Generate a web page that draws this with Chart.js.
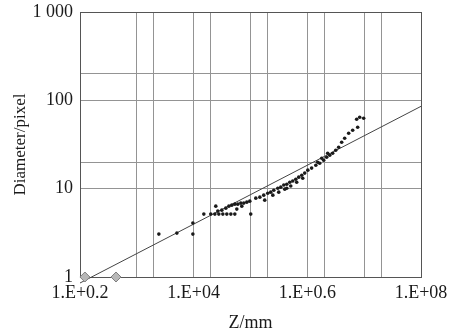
<!DOCTYPE html>
<html>
<head>
<meta charset="utf-8">
<script src="https://cdn.jsdelivr.net/npm/chart.js@4"></script>
<style>
  html, body { margin: 0; padding: 0; background: #fff; }
  #wrap { width: 457px; height: 335px; }
</style>
</head>
<body>
<div id="wrap"><canvas id="myChart" width="457" height="335"></canvas></div>
<script>
// measured points: Z (mm) and diameter (pixel)
let zValues = [2440, 5070, 9680, 9680, 15100, 24500, 20000, 23600, 27700, 32600,
  38300, 45100, 53000, 101000, 26600, 31300, 36800, 41600, 46900, 53000,
  59800, 67500, 76200, 86100, 97200, 70300, 57400, 124000, 146000, 171000,
  201000, 227000, 257000, 302000, 341000, 385000, 435000, 491000, 554000, 626000,
  706000, 798000, 900000, 1020000, 178000, 247000, 314000, 401000, 511000, 650000,
  830000, 435000, 1190000, 1410000, 1650000, 1940000, 2190000, 2480000, 2790000, 3160000,
  3560000, 4020000, 4540000, 5340000, 6280000, 7690000, 7380000, 8340000, 9800000, 1520000,
  2280000, 1790000];
let diameterValues = [3.06, 3.14, 3.06, 4.08, 5.15, 6.34, 5.15, 5.15, 5.15, 5.15,
  5.15, 5.15, 5.15, 5.15, 5.57, 5.71, 6.02, 6.34, 6.51, 6.68,
  6.68, 6.86, 6.86, 7.04, 7.22, 6.34, 5.87, 7.81, 8.02, 8.45,
  8.89, 9.13, 9.61, 10.1, 10.4, 11.0, 11.2, 11.8, 12.2, 12.8,
  13.5, 14.2, 15.0, 16.2, 7.41, 8.45, 9.13, 9.87, 10.7, 11.8,
  13.1, 10.1, 17.1, 18.4, 19.4, 21.0, 22.7, 23.9, 25.2, 27.2,
  29.4, 33.5, 37.2, 42.4, 45.8, 49.5, 61.0, 64.3, 62.6, 19.9,
  25.2, 22.1];

// fitted line end points
let fitZ = [100, 100000000];
let fitD = [0.855, 85.5];

// grey diamond markers on the bottom axis
let markZ = [122, 430];
let markD = [1, 1];

// grid lines and tick labels
let xGrid = [100, 1000, 2000, 10000, 20000, 100000, 200000, 1000000, 2000000, 10000000, 20000000, 100000000];
let xTickValues = [100, 10000, 1000000, 100000000];
let xTickLabels = ['1.E+0.2', '1.E+04', '1.E+0.6', '1.E+08'];
let yGrid = [1, 10, 20, 100, 200, 1000];
let yTickValues = [1, 10, 100, 1000];
let yTickLabels = ['1', '10', '100', '1 000'];

let toPoints = (xs, ys) => xs.map((x, i) => ({x: x, y: ys[i]}));

let font = "'Liberation Serif', 'DejaVu Serif', serif";
let gridGrey = '#949494';
let frameGrey = '#555555';

let ctx = document.getElementById('myChart').getContext('2d');

let chart = new Chart(ctx, {
  type: 'scatter',
  data: {
    datasets: [
      {
        data: toPoints(fitZ, fitD),
        showLine: true,
        borderColor: '#444444',
        borderWidth: 1,
        pointRadius: 0,
        clip: false,
        order: 2
      },
      {
        data: toPoints(markZ, markD),
        pointStyle: 'rectRot',
        pointRadius: 5,
        backgroundColor: '#b8b8b8',
        borderColor: '#808080',
        borderWidth: 1,
        clip: false,
        order: 1
      },
      {
        data: toPoints(zValues, diameterValues),
        pointRadius: 1.8,
        backgroundColor: '#1a1a1a',
        borderWidth: 0,
        order: 0
      }
    ]
  },
  options: {
    responsive: false,
    animation: false,
    layout: { padding: { left: 0, right: 36, top: 12, bottom: 0 } },
    plugins: {
      legend: { display: false },
      tooltip: { enabled: false }
    },
    scales: {
      x: {
        type: 'logarithmic',
        min: 100,
        max: 100000000,
        afterBuildTicks: (axis) => { axis.ticks = xGrid.map(v => ({value: v})); },
        afterFit: (axis) => {
          axis.height = 58;
          axis.paddingLeft = 0;
          axis.paddingRight = 0;
        },
        grid: {
          drawTicks: false,
          color: (c) => (c.tick && c.tick.value === 100000000) ? frameGrey : gridGrey
        },
        border: { color: frameGrey, width: 1 },
        ticks: {
          autoSkip: false,
          maxRotation: 0,
          padding: 5,
          color: '#1a1a1a',
          font: { family: font, size: 18 },
          callback: (v) => {
            let i = xTickValues.indexOf(v);
            return i >= 0 ? xTickLabels[i] : '';
          }
        },
        title: {
          display: true,
          text: 'Z/mm',
          color: '#1a1a1a',
          font: { family: font, size: 18 },
          padding: { top: 1, bottom: 1 }
        }
      },
      y: {
        type: 'logarithmic',
        min: 1,
        max: 1000,
        afterBuildTicks: (axis) => { axis.ticks = yGrid.map(v => ({value: v})); },
        afterFit: (axis) => {
          axis.width = 80;
          axis.paddingTop = 0;
          axis.paddingBottom = 0;
        },
        grid: {
          drawTicks: false,
          color: (c) => (c.tick && c.tick.value === 1000) ? frameGrey : gridGrey
        },
        border: { color: frameGrey, width: 1 },
        ticks: {
          autoSkip: false,
          padding: 7,
          color: '#1a1a1a',
          font: { family: font, size: 18 },
          callback: (v) => {
            let i = yTickValues.indexOf(v);
            return i >= 0 ? yTickLabels[i] : '';
          }
        },
        title: {
          display: true,
          text: 'Diameter/pixel',
          color: '#1a1a1a',
          font: { family: font, size: 17 },
          padding: { top: 10, bottom: 10 }
        }
      }
    }
  }
});
</script>
</body>
</html>
